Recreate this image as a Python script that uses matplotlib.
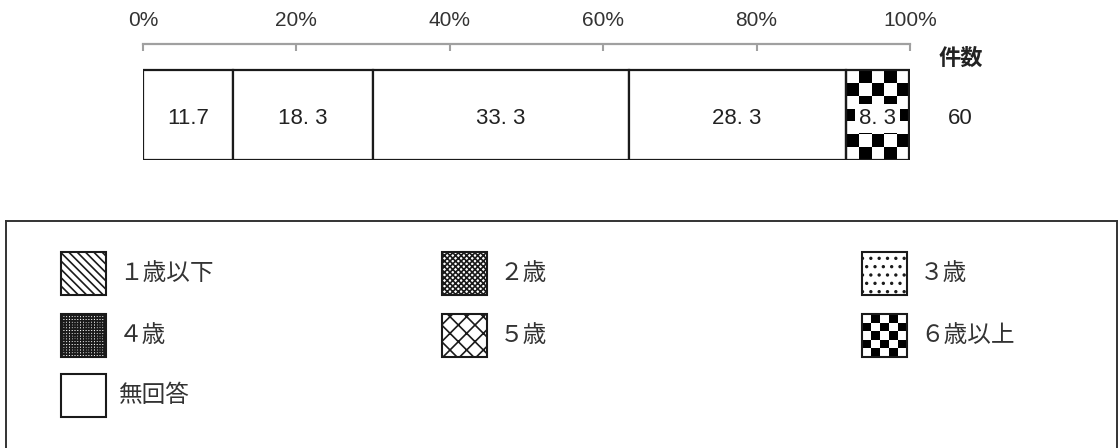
import numpy as np
import matplotlib
matplotlib.use("Agg")
import matplotlib.pyplot as plt
from matplotlib.patches import Rectangle

plt.rcParams["font.family"] = ["Liberation Sans Narrow", "Liberation Sans", "Noto Sans CJK JP", "DejaVu Sans"]
plt.rcParams["hatch.linewidth"] = 1.2

# data
valores = [11.7, 18.3, 33.3, 28.3, 8.3]
etiquetas_valor = ["11.7", "18. 3", "33. 3", "28. 3", "8. 3"]
rellenos = ["blanco", "blanco", "blanco", "blanco", "cuadros"]
n_total = 60
ticks_pct = [0, 20, 40, 60, 80, 100]

categorias = ["１歳以下", "２歳", "３歳", "４歳", "５歳", "６歳以上", "無回答"]
hatches = ["\\\\\\\\", "xxxxxx", "..", "++++++", "xx", "cuadros", ""]

W, H = 1120, 448
fig = plt.figure(figsize=(W / 100, H / 100), dpi=100)


def caja(x0, y0, x1, y1):
    # pixel box (top-left origin) -> figure fraction
    return [x0 / W, 1 - y1 / H, (x1 - x0) / W, (y1 - y0) / H]


def cuadros(ax, extent, nx, ny, z=2):
    tablero = np.indices((ny, nx)).sum(axis=0) % 2
    ax.imshow(tablero, cmap="gray_r", extent=extent, aspect="auto",
              interpolation="nearest", zorder=z, vmin=0, vmax=1)


# ---- stacked bar ----
ax = fig.add_axes(caja(143, 44, 910, 160))
izq = np.concatenate([[0], np.cumsum(valores)[:-1]])
for v, l, r, txt in zip(valores, izq, rellenos, etiquetas_valor):
    fc = "none" if r == "cuadros" else "white"
    ax.barh(0, v, left=l, height=1, facecolor=fc, edgecolor="#1a1a1a",
            linewidth=1.6, zorder=3)
    if r == "cuadros":
        cuadros(ax, (l, l + v, -0.5, 0.5), 5, 7)
        ax.text(l + v / 2, -0.04, txt, ha="center", va="center", fontsize=16,
                color="#222222", zorder=4,
                bbox=dict(facecolor="white", edgecolor="none", pad=3))
    else:
        ax.text(l + v / 2, -0.04, txt, ha="center", va="center", fontsize=16,
                color="#222222", zorder=4)

ax.set_xlim(0, 100)
ax.set_ylim(-0.5, 0.5 + 26 / 90)
ax.set_yticks([])
ax.set_xticks(ticks_pct)
ax.set_xticklabels([f"{t}%" for t in ticks_pct])
ax.xaxis.set_ticks_position("top")
ax.tick_params(axis="x", direction="in", length=5, width=1.5, color="#a0a0a0",
               labelsize=15, labelcolor="#333333", pad=10)
for s in ["left", "right", "bottom"]:
    ax.spines[s].set_visible(False)
ax.spines["top"].set_color("#a0a0a0")
ax.spines["top"].set_linewidth(1.6)
ax.patch.set_alpha(0)

fig.text(961 / W, 1 - 58 / H, "件数", ha="center", va="center", fontsize=16,
         fontweight="bold", color="#222222", family=["Noto Sans CJK JP"])
fig.text(960 / W, 1 - 119 / H, str(n_total), ha="center", va="center",
         fontsize=16, color="#222222")

# ---- legend box ----
lg = fig.add_axes(caja(6, 221, 1117, 460))
lg.set_xlim(6, 1117)
lg.set_ylim(460, 221)
lg.set_xticks([])
lg.set_yticks([])
for s in ["left", "right", "top"]:
    lg.spines[s].set_color("#333333")
    lg.spines[s].set_linewidth(1.4)
lg.spines["bottom"].set_visible(False)

col_x = [61, 442, 862]
fila_y = [252, 314, 374]
for i, (cat, h) in enumerate(zip(categorias, hatches)):
    x = col_x[i % 3]
    y = fila_y[i // 3]
    if h == "cuadros":
        cuadros(lg, (x, x + 45, y + 43, y), 5, 5, z=2)
        lg.add_patch(Rectangle((x, y), 45, 43, facecolor="none",
                               edgecolor="#1a1a1a", linewidth=1.5, zorder=3))
    else:
        lg.add_patch(Rectangle((x, y), 45, 43, facecolor="white", hatch=h,
                               edgecolor="#1a1a1a", linewidth=1.5, zorder=3))
    lg.text(x + 58, y + 22, cat, ha="left", va="center", fontsize=17,
            color="#333333", family=["Noto Sans CJK JP"])

fig.savefig("out.png", dpi=100)
